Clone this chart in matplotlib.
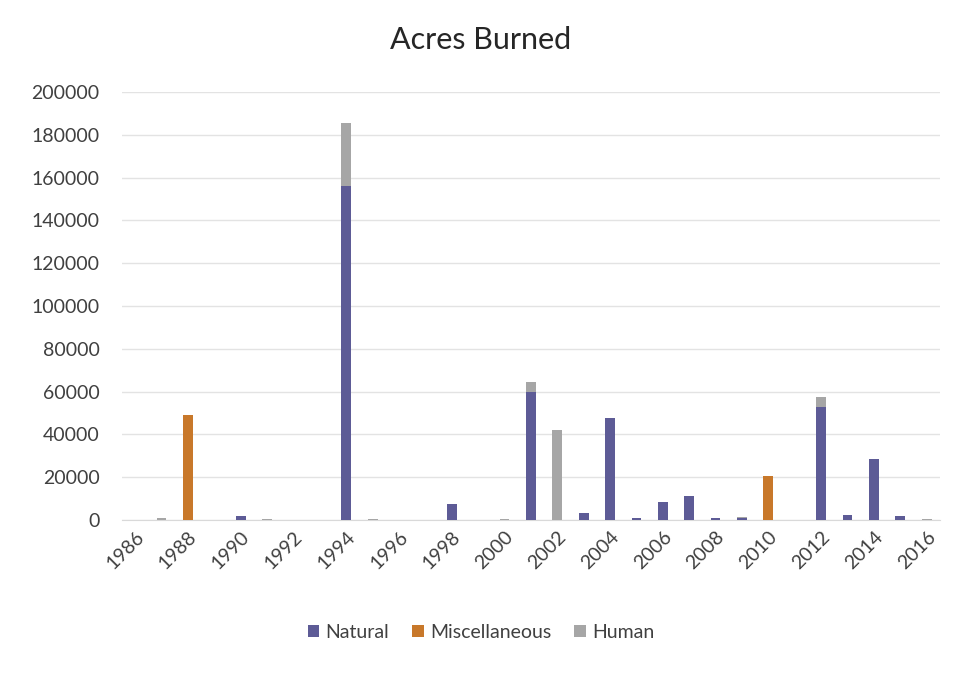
import numpy as np
import matplotlib
matplotlib.use("Agg")
from matplotlib import pyplot as plt

years = list(range(1986, 2017))

# acres burned per year
natural = [0, 0, 0, 0, 2000, 0, 0, 0, 156000, 0,
           0, 0, 7500, 0, 0, 60000, 0, 3500, 47500, 800,
           8500, 11000, 1000, 1000, 0, 0, 53000, 2500, 28500, 2000,
           0]
miscellaneous = [0, 0, 49000, 0, 0, 0, 0, 0, 0, 0,
                 0, 0, 0, 0, 0, 0, 0, 0, 0, 0,
                 0, 0, 0, 0, 20500, 0, 0, 0, 0, 0,
                 0]
human = [0, 1000, 0, 0, 0, 500, 0, 0, 29500, 500,
         0, 0, 0, 0, 500, 4500, 42000, 0, 0, 0,
         0, 0, 0, 500, 0, 0, 4500, 0, 0, 0,
         500]

series_names = ["Natural", "Miscellaneous", "Human"]
colors = ["#5D5B96", "#C8782A", "#A6A6A6"]

plt.rcParams["font.family"] = ["Lato", "DejaVu Sans"]

fig = plt.figure(figsize=(9.62, 6.73), dpi=100)
ax = fig.add_axes([0.1268, 0.2273, 0.977 - 0.1268, 0.8633 - 0.2273])

x = np.arange(len(years))
width = 0.37
bottom = np.zeros(len(years))
for name, vals, col in zip(series_names, [natural, miscellaneous, human], colors):
    vals = np.array(vals, dtype=float)
    ax.bar(x, vals, width, bottom=bottom, color=col, label=name, zorder=3)
    bottom += vals

ax.set_xlim(-0.5, len(years) - 0.5)
ax.set_ylim(0, 200000)
ax.set_yticks(np.arange(0, 200001, 20000))
ax.yaxis.set_major_formatter(matplotlib.ticker.FuncFormatter(lambda v, p: f"{int(v)}"))
ax.grid(axis="y", color="#E3E3E3", linewidth=1, zorder=0)

tick_pos = x[::2]
ax.set_xticks(tick_pos)
ax.set_xticklabels([str(y) for y in years[::2]], rotation=45, ha="right",
                   rotation_mode="anchor")

for s in ["top", "right", "left"]:
    ax.spines[s].set_visible(False)
ax.spines["bottom"].set_color("#D9D9D9")
ax.tick_params(axis="both", length=0, labelsize=14, colors="#404040")
ax.tick_params(axis="y", pad=16)
ax.tick_params(axis="x", pad=6)

fig.text(0.5, 0.94, "Acres Burned", ha="center", va="center",
         fontsize=22, color="#262626")

fig.legend(loc="center", bbox_to_anchor=(0.5, 0.06), ncol=3, frameon=False,
           fontsize=14, handlelength=0.6, handleheight=0.6,
           columnspacing=1.2, handletextpad=0.3, labelcolor="#404040")

fig.savefig("out.png", dpi=100)
